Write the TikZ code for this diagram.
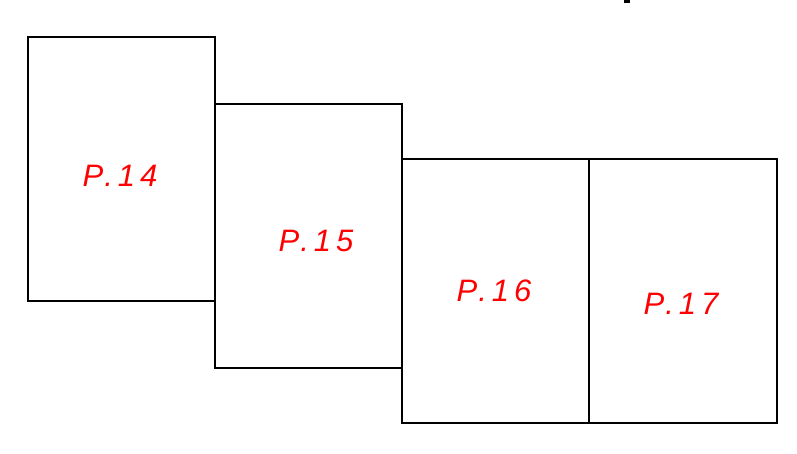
\documentclass[tikz,border=0pt]{standalone}
\usepackage{fontspec}
\newfontfamily\labfont[LetterSpace=16]{Liberation Sans}
\begin{document}
\begin{tikzpicture}[x=1pt,y=-1pt,
  page/.style={draw=black,line width=1.3pt},
  lab/.style={text=red,font=\labfont\itshape\fontsize{31}{31}\selectfont,inner sep=0pt}]
\useasboundingbox (0,0) rectangle (797,453);
\draw[page] (28,37) rectangle (215,301);
\draw[page] (215,104) rectangle (402,368);
\draw[page] (402,159) rectangle (589,423);
\draw[page] (589,159) rectangle (777,423);
\fill[black] (624,0) rectangle (630,3);
\node[lab] (p14) at (120,176) {P.14};
\node[lab] (p15) at (316,241) {P.15};
\node[lab] (p16) at (494,291) {P.16};
\node[lab] (p17) at (681,304) {P.17};
\end{tikzpicture}
\end{document}
